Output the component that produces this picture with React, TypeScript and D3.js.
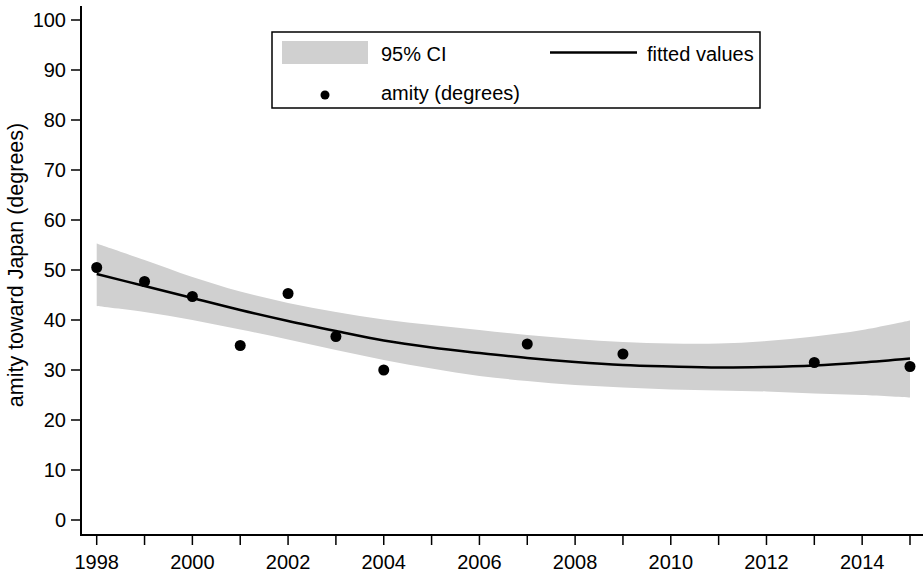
import React from "react";
import * as d3 from "d3";

const years = [1998, 1999, 2000, 2001, 2002, 2003, 2004, 2005, 2006, 2007, 2008, 2009, 2010, 2011, 2012, 2013, 2014, 2015];
const fitted = [49.2, 46.8, 44.4, 42.0, 39.8, 37.8, 35.9, 34.5, 33.4, 32.4, 31.6, 31.0, 30.7, 30.5, 30.6, 30.9, 31.5, 32.3];
const ciUpper = [55.3, 52.0, 48.6, 45.7, 43.4, 41.6, 40.1, 39.0, 38.0, 37.0, 36.2, 35.6, 35.3, 35.3, 35.8, 36.7, 38.0, 39.9];
const ciLower = [42.8, 41.6, 40.0, 38.1, 36.1, 34.0, 32.0, 30.3, 28.8, 27.8, 27.0, 26.5, 26.1, 25.9, 25.7, 25.3, 25.0, 24.5];

const obsYears = [1998, 1999, 2000, 2001, 2002, 2003, 2004, 2007, 2009, 2013, 2015];
const obsValues = [50.5, 47.7, 44.7, 34.9, 45.3, 36.7, 30.0, 35.2, 33.2, 31.5, 30.7];

const yTicks = [0, 10, 20, 30, 40, 50, 60, 70, 80, 90, 100];
const xMinorTicks = d3.range(1998, 2016);
const xLabelTicks = [1998, 2000, 2002, 2004, 2006, 2008, 2010, 2012, 2014];

const W = 923;
const H = 576;
const FONT = "'Liberation Sans', Arial, Helvetica, sans-serif";

export default function App() {
  const x = d3.scaleLinear().domain([1998, 2015]).range([96.7, 910]);
  const y = d3.scaleLinear().domain([0, 100]).range([520, 20]);

  const band = years.map((yr, i) => ({ yr, lo: ciLower[i], hi: ciUpper[i], f: fitted[i] }));
  const area = d3
    .area<{ yr: number; lo: number; hi: number; f: number }>()
    .x((d) => x(d.yr))
    .y0((d) => y(d.lo))
    .y1((d) => y(d.hi))
    .curve(d3.curveCatmullRom.alpha(0.5));
  const line = d3
    .line<{ yr: number; lo: number; hi: number; f: number }>()
    .x((d) => x(d.yr))
    .y((d) => y(d.f))
    .curve(d3.curveCatmullRom.alpha(0.5));

  const axisX = 81;
  const axisY = 535;

  return (
    <svg
      width={W}
      height={H}
      style={{ position: "absolute", left: 0, top: 0, background: "#fff" }}
      fontFamily={FONT}
    >
      <rect x={0} y={0} width={W} height={H} fill="#fff" />
      {/* CI band */}
      <path d={area(band) || ""} fill="#d0d0d0" stroke="none" />
      {/* fitted line */}
      <path d={line(band) || ""} fill="none" stroke="#000" strokeWidth={2.5} />
      {/* points */}
      {obsYears.map((yr, i) => (
        <circle key={yr} cx={x(yr)} cy={y(obsValues[i])} r={5.5} fill="#000" />
      ))}

      {/* Y axis */}
      <line x1={axisX} x2={axisX} y1={6} y2={axisY + 1} stroke="#000" strokeWidth={2} />
      {yTicks.map((t) => (
        <g key={t}>
          <line x1={axisX - 10} x2={axisX} y1={y(t)} y2={y(t)} stroke="#000" strokeWidth={1.5} />
          <text x={66} y={y(t)} dy="0.35em" textAnchor="end" fontSize={20} fill="#000">
            {t}
          </text>
        </g>
      ))}
      <text
        transform={`translate(23,${265}) rotate(-90)`}
        textAnchor="middle"
        fontSize={21.5}
        fill="#000"
      >
        amity toward Japan (degrees)
      </text>

      {/* X axis */}
      <line x1={axisX - 1} x2={W} y1={axisY} y2={axisY} stroke="#000" strokeWidth={2} />
      {xMinorTicks.map((t) => (
        <line key={t} x1={x(t)} x2={x(t)} y1={axisY} y2={axisY + 10} stroke="#000" strokeWidth={1.5} />
      ))}
      {xLabelTicks.map((t) => (
        <text key={t} x={x(t)} y={569} textAnchor="middle" fontSize={20} fill="#000">
          {t}
        </text>
      ))}

      {/* Legend */}
      <rect x={272} y={32} width={488} height={76} fill="#fff" stroke="#000" strokeWidth={1.5} />
      <rect x={282} y={41} width={86} height={23} fill="#d0d0d0" />
      <text x={381} y={60.5} fontSize={20} fill="#000">95% CI</text>
      <line x1={550} x2={637} y1={52.5} y2={52.5} stroke="#000" strokeWidth={2.5} />
      <text x={647} y={60.5} fontSize={20} fill="#000">fitted values</text>
      <circle cx={325} cy={95} r={4.5} fill="#000" />
      <text x={381} y={100} fontSize={20} fill="#000">amity (degrees)</text>
    </svg>
  );
}
